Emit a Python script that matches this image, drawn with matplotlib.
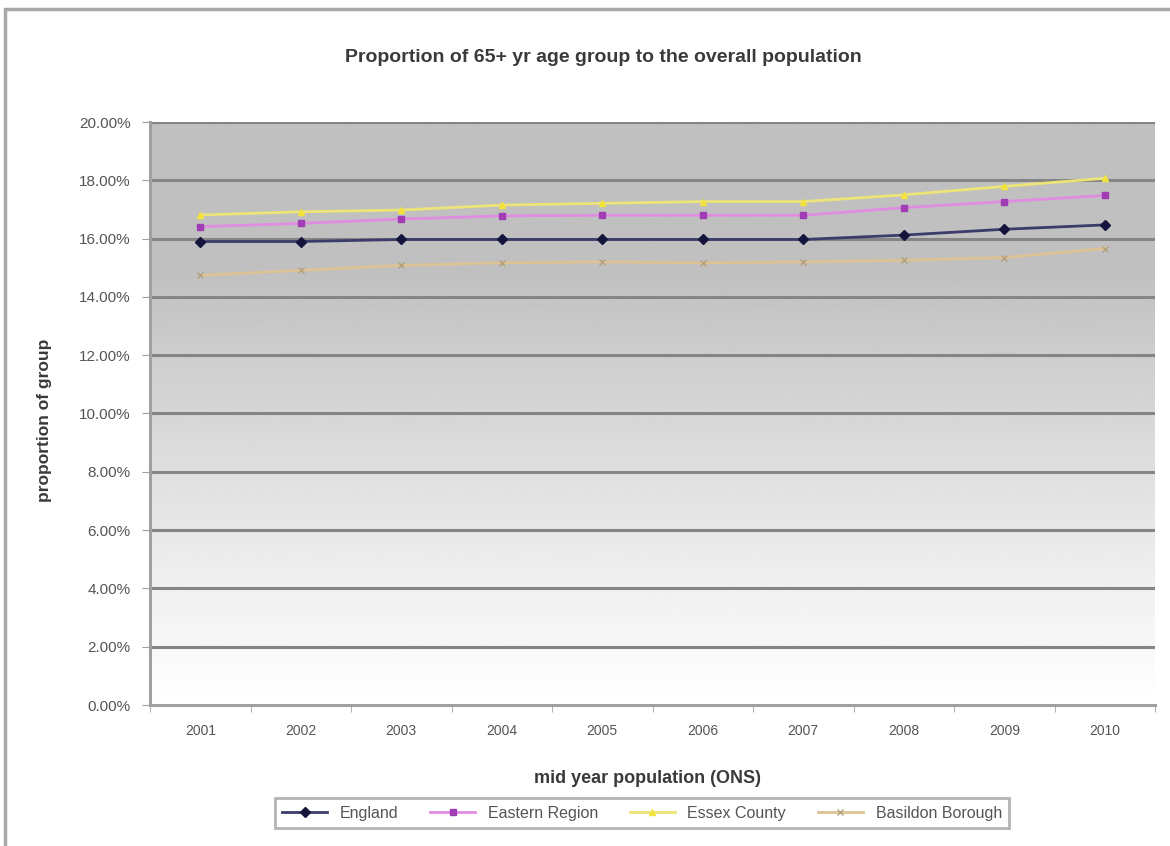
import numpy as np
from matplotlib import pyplot as plt
from matplotlib.patches import Rectangle

plt.rcParams['font.family'] = ['Liberation Sans', 'DejaVu Sans']

years = ['2001', '2002', '2003', '2004', '2005', '2006', '2007', '2008', '2009', '2010']
england = [15.90, 15.90, 15.97, 15.97, 15.97, 15.97, 15.97, 16.12, 16.32, 16.47]
eastern = [16.41, 16.52, 16.67, 16.78, 16.80, 16.80, 16.80, 17.06, 17.27, 17.48]
essex = [16.81, 16.92, 16.98, 17.15, 17.21, 17.27, 17.27, 17.50, 17.79, 18.07]
basildon = [14.74, 14.91, 15.08, 15.17, 15.20, 15.17, 15.20, 15.26, 15.35, 15.66]

series = [
    (england, 'England', '#3c3c6a', '#14143c', 'D'),
    (eastern, 'Eastern Region', '#e08ce0', '#a03cb4', 's'),
    (essex, 'Essex County', '#ece478', '#f4e23c', '^'),
    (basildon, 'Basildon Borough', '#dcc294', '#b4a07c', 'x'),
]

fig = plt.figure(figsize=(11.7, 8.46), dpi=100)
# outer chart border (runs off the right and bottom edges)
fig.patches.append(Rectangle((5 / 1170, -0.05), 1.2, 1 - 9 / 846 + 0.05,
                             transform=fig.transFigure, fill=False,
                             edgecolor='#a8a8a8', linewidth=2.5))

ax = fig.add_axes([150 / 1170, 1 - 705 / 846, 1005 / 1170, 583 / 846])
x = np.arange(len(years))
ax.set_xlim(-0.5, len(years) - 0.5)
ax.set_ylim(0, 20)

# gray-to-white gradient behind the plot, darker band near the top
gy = np.linspace(0, 1, 256)
grad = (1.0 - 0.25 * np.clip(gy / 0.75, 0, 1) ** 1.1).reshape(-1, 1)
ax.imshow(grad, extent=[-0.5, len(years) - 0.5, 0, 20], origin='lower',
          aspect='auto', cmap='gray', vmin=0, vmax=1, zorder=0)

yticks = np.arange(0, 21, 2)
ax.set_yticks(yticks)
ax.set_yticklabels([f'{v:.2f}%' for v in yticks])
for v in yticks[1:]:
    ax.axhline(v, color='#858585', linewidth=2.2, zorder=1)

ax.set_xticks(x)
ax.set_xticklabels(years)
ax.set_xticks(np.arange(-0.5, len(years)), minor=True)
ax.tick_params(axis='x', which='major', length=0, pad=14, labelsize=10)
ax.tick_params(axis='x', which='minor', length=5, color='#a0a0a0', direction='out')
ax.tick_params(axis='y', length=6, color='#a0a0a0', pad=8, labelsize=11)
ax.tick_params(labelcolor='#555555')

for sp in ['top', 'right']:
    ax.spines[sp].set_visible(False)
for sp in ['left', 'bottom']:
    ax.spines[sp].set_color('#a0a0a0')
    ax.spines[sp].set_linewidth(2.2)

for vals, name, lc, mc, mk in series:
    ax.plot(x, vals, color=lc, linewidth=2.0, marker=mk, markersize=5,
            markerfacecolor=mc, markeredgecolor=mc, label=name, zorder=3)

fig.text(603 / 1170, 1 - 57 / 846, 'Proportion of 65+ yr age group to the overall population',
         ha='center', va='center', fontsize=14, fontweight='bold', color='#3a3a3a')
fig.text(45 / 1170, 1 - 420 / 846, 'proportion of group', rotation=90,
         ha='center', va='center', fontsize=12.5, fontweight='bold', color='#3a3a3a')
fig.text(648 / 1170, 1 - 778 / 846, 'mid year population (ONS)',
         ha='center', va='center', fontsize=13, fontweight='bold', color='#3a3a3a')

leg = fig.legend(loc='center', bbox_to_anchor=(642 / 1170, 1 - 813 / 846), ncol=4,
                 fontsize=11.5, frameon=True, fancybox=False, edgecolor='#a0a0a0',
                 handlelength=2.8, columnspacing=2.0, borderpad=0.45)
leg.get_frame().set_linewidth(2)
for t in leg.get_texts():
    t.set_color('#555555')

fig.savefig('out.png', dpi=100)
